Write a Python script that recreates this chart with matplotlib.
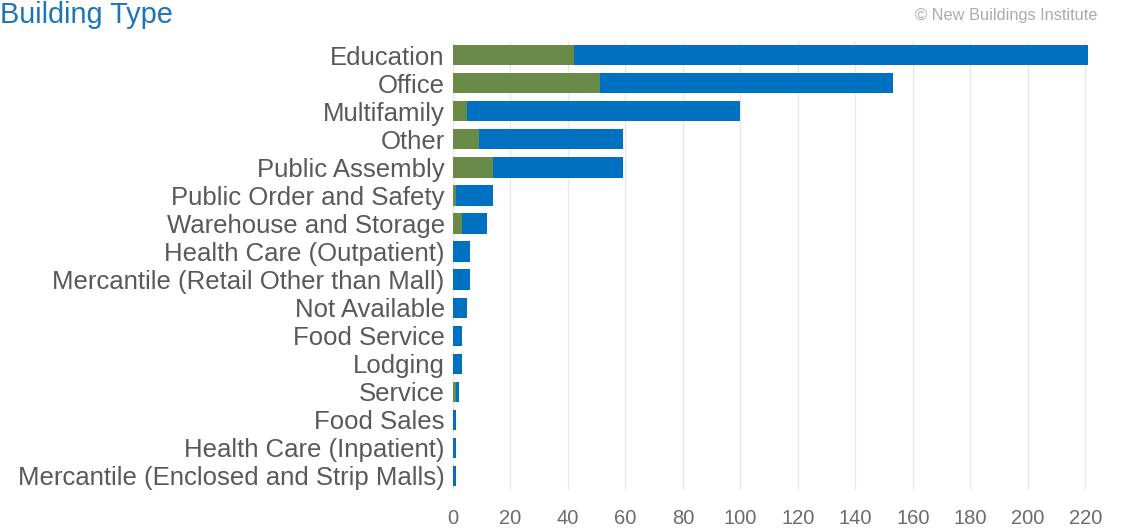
import matplotlib
matplotlib.use("Agg")
import matplotlib.pyplot as plt
import numpy as np

plt.rcParams["font.family"] = ["Liberation Sans", "DejaVu Sans"]

categories = [
    "Education", "Office", "Multifamily", "Other", "Public Assembly",
    "Public Order and Safety", "Warehouse and Storage", "Health Care (Outpatient)",
    "Mercantile (Retail Other than Mall)", "Not Available", "Food Service",
    "Lodging", "Service", "Food Sales", "Health Care (Inpatient)",
    "Mercantile (Enclosed and Strip Malls)",
]
green_vals = [42, 51, 5, 9, 14, 1, 3, 0, 0, 0, 0, 0, 1, 0, 0, 0]
total_vals = [221, 153, 100, 59, 59, 14, 12, 6, 6, 5, 3, 3, 2, 1, 1, 1]
blue_vals = [t - g for t, g in zip(total_vals, green_vals)]
xticks = list(range(0, 221, 20))

GREEN = "#6a8b47"
BLUE = "#0070c0"
LABEL = "#595959"

fig = plt.figure(figsize=(11.24, 5.29), dpi=100)
ax = fig.add_axes([0.403, 0.074, 0.578, 0.848])

y = np.arange(len(categories))
ax.barh(y, green_vals, height=0.72, color=GREEN, zorder=2)
ax.barh(y, blue_vals, left=green_vals, height=0.72, color=BLUE, zorder=2)

ax.set_ylim(len(categories) - 0.5, -0.5)
ax.set_xlim(0, 226)
ax.set_yticks(y)
ax.set_yticklabels(categories, fontsize=18.5, color=LABEL, va="center_baseline")
ax.set_xticks(xticks)
ax.set_xticklabels([str(v) for v in xticks], fontsize=14.5, color="#6b6b6b")
ax.tick_params(axis="both", length=0)
ax.tick_params(axis="x", pad=14)
ax.tick_params(axis="y", pad=6)
for s in ax.spines.values():
    s.set_visible(False)
ax.grid(axis="x", color="#e8e8e8", lw=1, zorder=0)

fig.text(0.0, 0.998, "Building Type", fontsize=20.8, color="#1b75bb",
         ha="left", va="top")
fig.text(0.976, 0.971, "\u00a9 New Buildings Institute", fontsize=11.8,
         color="#ababab", ha="right", va="center")

fig.savefig("out.png", dpi=100)
